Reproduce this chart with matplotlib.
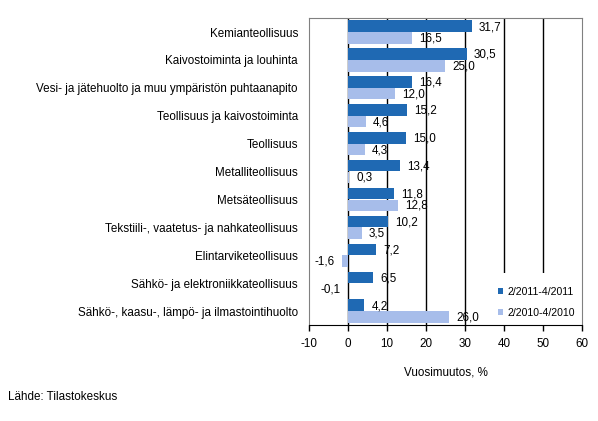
import numpy as np
import matplotlib
matplotlib.use("Agg")
import matplotlib.pyplot as plt
from matplotlib.patches import Rectangle

plt.rcParams['font.family'] = ['Liberation Sans', 'DejaVu Sans']

categories = [
    "Kemianteollisuus",
    "Kaivostoiminta ja louhinta",
    "Vesi- ja jätehuolto ja muu ympäristön puhtaanapito",
    "Teollisuus ja kaivostoiminta",
    "Teollisuus",
    "Metalliteollisuus",
    "Metsäteollisuus",
    "Tekstiili-, vaatetus- ja nahkateollisuus",
    "Elintarviketeollisuus",
    "Sähkö- ja elektroniikkateollisuus",
    "Sähkö-, kaasu-, lämpö- ja ilmastointihuolto",
]
series_2011 = [31.7, 30.5, 16.4, 15.2, 15.0, 13.4, 11.8, 10.2, 7.2, 6.5, 4.2]
series_2010 = [16.5, 25.0, 12.0, 4.6, 4.3, 0.3, 12.8, 3.5, -1.6, -0.1, 26.0]
label_2011 = "2/2011-4/2011"
label_2010 = "2/2010-4/2010"
xticks = [-10, 0, 10, 20, 30, 40, 50, 60]

dark = "#1f69b3"
light = "#a7bdea"
fs = 8.4

fig = plt.figure(figsize=(5.98, 4.21), dpi=100)
ax = fig.add_axes([0.5167, 0.228, 0.4565, 0.729])

y = np.arange(len(categories))
h = 0.41
ax.barh(y - h / 2 - 0.005, series_2011, height=h, color=dark, zorder=3, label=label_2011)
ax.barh(y + h / 2 + 0.005, series_2010, height=h, color=light, zorder=3, label=label_2010)

def fmt(v):
    return f"{v:.1f}".replace(".", ",")

for yy, v in zip(y - h / 2, series_2011):
    ax.annotate(fmt(v), (v, yy), xytext=(5 if v >= 0 else -5, -0.5), textcoords="offset points",
                ha="left" if v >= 0 else "right", va="center", fontsize=fs, zorder=5)
for yy, v in zip(y + h / 2, series_2010):
    ax.annotate(fmt(v), (v, yy), xytext=(5 if v >= 0 else -5, -0.5), textcoords="offset points",
                ha="left" if v >= 0 else "right", va="center", fontsize=fs, zorder=5)

ax.set_xlim(-10, 60)
ax.set_ylim(len(categories) - 0.5, -0.5)
ax.set_xticks(xticks)
ax.set_xticklabels([str(t) for t in xticks], fontsize=fs)
ax.set_yticks(y)
ax.set_yticklabels(categories, fontsize=fs)
ax.tick_params(axis="y", length=0, pad=8)
ax.tick_params(axis="x", length=4, width=1, direction="out", pad=5)

for t in [0, 10, 20, 30, 40, 50]:
    ax.axvline(t, color="black", lw=1, zorder=1)

for s in ["left", "top", "right"]:
    ax.spines[s].set_color("#808080")
ax.spines["bottom"].set_color("black")

# white patch behind the legend hides grid lines
ax.add_patch(Rectangle((39.5, 8.65), 20.3, 2.8, facecolor="white", edgecolor="none", zorder=2))
leg = ax.legend(loc="lower right", bbox_to_anchor=(1.0, 0.0), frameon=False, fontsize=7.6,
                handlelength=0.5, handleheight=0.5, handletextpad=0.4, labelspacing=1.1,
                borderaxespad=0.25)

ax.set_xlabel("Vuosimuutos, %", fontsize=fs, labelpad=12)
fig.text(0.013, 0.05, "Lähde: Tilastokeskus", fontsize=fs)

fig.savefig("out.png", dpi=100)
